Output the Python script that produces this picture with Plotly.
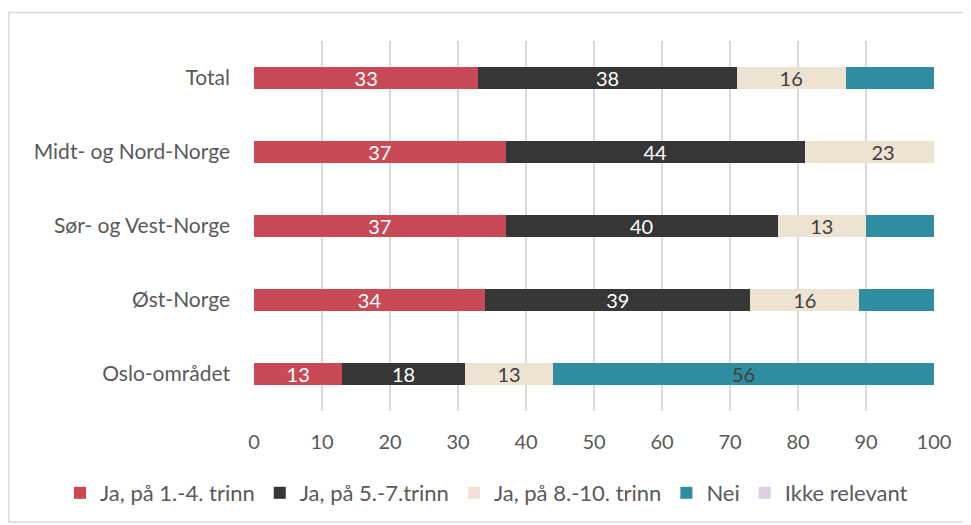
import plotly.graph_objects as go

categories = ["Total", "Midt- og Nord-Norge", "Sør- og Vest-Norge", "Øst-Norge", "Oslo-området"]
series_names = ["Ja, på 1.-4. trinn", "Ja, på 5.-7.trinn", "Ja, på 8.-10. trinn", "Nei", "Ikke relevant"]
ja_1_4 = [33, 37, 37, 34, 13]
ja_5_7 = [38, 44, 40, 39, 18]
ja_8_10 = [16, 23, 13, 16, 13]
nei = [13, 0, 10, 11, 56]
ikke_relevant = [0, 0, 0, 0, 0]
nei_labels = ["", "", "", "", "56"]
x_ticks = [0, 10, 20, 30, 40, 50, 60, 70, 80, 90, 100]

colors = ["#C84A57", "#363636", "#EEE2D2", "#2E8D9E", "#DAD2E1"]
label_colors = ["white", "white", "#404040", "#404040", "#404040"]

FONT = "Lato, 'Open Sans', sans-serif"

values = [ja_1_4, ja_5_7, ja_8_10, nei, ikke_relevant]
texts = [[str(v) for v in ja_1_4], [str(v) for v in ja_5_7], [str(v) for v in ja_8_10], nei_labels, ["" for _ in ikke_relevant]]

fig = go.Figure()
for name, vals, col, tcol, txt in zip(series_names, values, colors, label_colors, texts):
    fig.add_trace(go.Bar(
        name=name, y=categories, x=vals, orientation="h",
        marker=dict(color=col, line=dict(width=0)),
        text=txt, textposition="inside", insidetextanchor="middle", textangle=0,
        textfont=dict(color=tcol, size=20, family=FONT),
        constraintext="none", width=0.3, hoverinfo="x+name",
    ))

# page has an 8px body margin; work in page pixel coordinates
OFF = 8
W, H = 971 - OFF, 525 - OFF
PL, PR, PT, PB = 254, 934, 41, 411  # plot area in page px
L = PL - OFF
T = PT - OFF
pw = PR - PL
ph = PB - PT
R = W - L - pw
B = H - T - ph

def px2x(px):
    return (px - PL) / pw

def py2y(py):
    return (PB - py) / ph

fig.update_layout(
    barmode="stack",
    width=W, height=H,
    margin=dict(l=L, r=R, t=T, b=B, autoexpand=False),
    paper_bgcolor="white", plot_bgcolor="white",
    font=dict(family=FONT, size=20, color="#595959"),
    showlegend=True,
    legend=dict(
        orientation="h", x=px2x(60), xanchor="left", y=py2y(493), yanchor="middle",
        font=dict(size=22, color="#595959", family=FONT),
        traceorder="normal", itemwidth=30,
    ),
    xaxis=dict(
        range=[0, 100], tickvals=x_ticks, ticktext=[str(t) for t in x_ticks],
        showgrid=True, gridcolor="#D9D9D9", gridwidth=2, zeroline=False,
        showline=False, ticks="", tickfont=dict(size=20, color="#595959"),
        fixedrange=True, ticklabelstandoff=17, automargin=False,
    ),
    yaxis=dict(
        categoryorder="array", categoryarray=categories, autorange="reversed",
        showgrid=False, zeroline=False, showline=False, ticks="",
        tickfont=dict(size=21, color="#595959"), ticklabelstandoff=23, automargin=False,
    ),
)

fig.add_shape(type="rect", xref="paper", yref="paper",
              x0=px2x(8.5), x1=px2x(968.5), y0=py2y(522), y1=py2y(12.5),
              line=dict(color="#D9D9D9", width=1.5), fillcolor="rgba(0,0,0,0)", layer="below")

fig.write_html("out.html")
